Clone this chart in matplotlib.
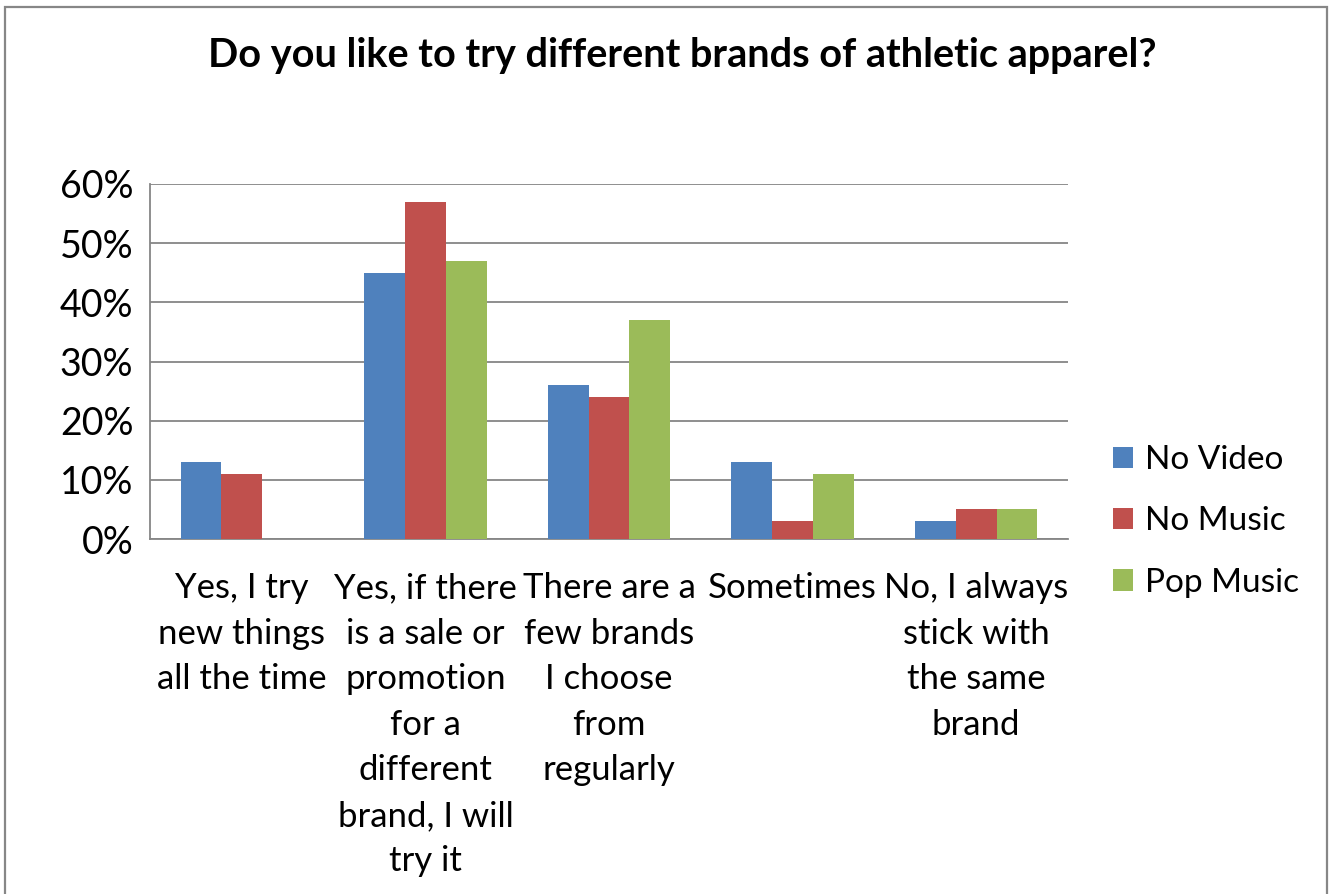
import numpy as np
import matplotlib.pyplot as plt
from matplotlib.patches import Rectangle, Patch

plt.rcParams['font.family'] = ['Lato', 'DejaVu Sans']

categories = ["Yes, I try\nnew things\nall the time",
              "Yes, if there\nis a sale or\npromotion\nfor a\ndifferent\nbrand, I will\ntry it",
              "There are a\nfew brands\nI choose\nfrom\nregularly",
              "Sometimes",
              "No, I always\nstick with\nthe same\nbrand"]
series_names = ["No Video", "No Music", "Pop Music"]
no_video = [13, 45, 26, 13, 3]
no_music = [11, 57, 24, 3, 5]
pop_music = [0, 47, 37, 11, 5]
colors = ["#4F81BD", "#C0504D", "#9BBB59"]
yticks = [0, 10, 20, 30, 40, 50, 60]

fig = plt.figure(figsize=(13.33, 8.94), dpi=100)
ax = fig.add_axes([150/1333, 1-539/894, 918/1333, 355/894])

x = np.arange(len(categories))
w = 0.222
for i, (vals, name) in enumerate(zip([no_video, no_music, pop_music], series_names)):
    ax.bar(x + (i-1)*w, vals, width=w, color=colors[i], label=name, zorder=3)

ax.set_xlim(-0.5, 4.5)
ax.set_ylim(0, 60)
ax.set_yticks(yticks)
ax.set_yticklabels([f"{v}%" for v in yticks], fontsize=27)
ax.set_xticks(x)
ax.set_xticklabels(categories, fontsize=25, linespacing=1.52, va='top')
ax.tick_params(axis='both', length=0)
ax.tick_params(axis='y', pad=12)
ax.tick_params(axis='x', pad=24)
ax.yaxis.grid(True, color='#868686', linewidth=1.3, zorder=0)
for s in ['top', 'right']:
    ax.spines[s].set_visible(False)
for s in ['left', 'bottom']:
    ax.spines[s].set_color('#868686')
    ax.spines[s].set_linewidth(1.3)

fig.text(682/1333, 1-56/894, "Do you like to try different brands of athletic apparel?",
         ha='center', va='center', fontsize=28.5, fontweight='bold')

handles = [Patch(facecolor=c, edgecolor='none') for c in colors]
fig.legend(handles, series_names, loc='upper left', bbox_to_anchor=(1113/1333, 1-445/894),
           frameon=False, fontsize=24, handlelength=0.6, handleheight=0.6,
           handletextpad=0.36, labelspacing=0.94, borderaxespad=0, borderpad=0)

fig.patches.append(Rectangle((5/1333, -0.1), 1322/1333, 1.1-7/894, transform=fig.transFigure,
                             fill=False, edgecolor='#878787', linewidth=1.6))

fig.savefig("out.png", dpi=100)
